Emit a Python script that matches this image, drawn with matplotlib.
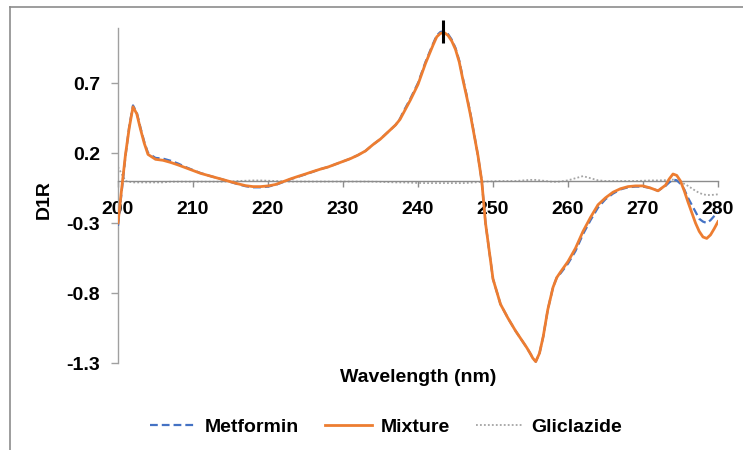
import matplotlib
matplotlib.use("Agg")
import matplotlib.pyplot as plt
from matplotlib.lines import Line2D

# ---- data ----
wavelength = [200, 200.5, 201, 201.5, 202, 202.5, 203, 203.5, 204,
              205, 206, 207, 208, 209, 210, 211, 212, 213, 214, 215, 216, 217, 218, 219, 220,
              221, 222, 223, 224, 225, 226, 227, 228, 229, 230, 231, 232, 233, 234, 235, 236,
              237, 237.6, 238, 239, 240, 241, 242,
              242.5, 243, 243.5, 244, 244.5, 245, 245.5, 246, 246.5, 247, 248, 248.5,
              249, 250, 251, 252, 253, 254, 254.5,
              255, 255.3, 255.7, 256.2, 256.7, 257.3, 258, 258.5,
              259, 260, 261, 262, 263, 264, 265, 266, 267, 268, 269, 270, 271, 272, 273,
              273.5, 274, 274.5, 275, 275.5, 276, 277, 277.5, 278, 278.5, 279, 279.5, 280]

mixture = [-0.30, -0.05, 0.19, 0.38, 0.53, 0.48, 0.37, 0.27, 0.19,
           0.155, 0.148, 0.133, 0.115, 0.095, 0.075, 0.055, 0.04, 0.025, 0.01, -0.005, -0.02, -0.033, -0.04, -0.04, -0.035,
           -0.025, -0.005, 0.015, 0.033, 0.05, 0.068, 0.085, 0.10, 0.12, 0.14, 0.16, 0.185, 0.215, 0.26, 0.30, 0.35,
           0.40, 0.44, 0.48, 0.58, 0.69, 0.84, 0.97,
           1.03, 1.055, 1.06, 1.04, 1.00, 0.94, 0.85, 0.72, 0.60, 0.47, 0.18, 0.0,
           -0.30, -0.70, -0.88, -0.98, -1.07, -1.15, -1.19,
           -1.235, -1.265, -1.29, -1.23, -1.11, -0.92, -0.76, -0.69,
           -0.65, -0.575, -0.48, -0.36, -0.26, -0.17, -0.12, -0.08, -0.055, -0.04, -0.035, -0.035, -0.05, -0.07, -0.03,
           0.015, 0.05, 0.04, 0.0, -0.07, -0.15, -0.30, -0.36, -0.40, -0.41, -0.385, -0.34, -0.29]

metformin = [-0.32, -0.07, 0.18, 0.39, 0.54, 0.49, 0.38, 0.28, 0.20,
             0.165, 0.16, 0.145, 0.125, 0.10, 0.078, 0.057, 0.04, 0.025, 0.01, -0.007, -0.023, -0.037, -0.045, -0.045, -0.04,
             -0.028, -0.008, 0.013, 0.03, 0.048, 0.066, 0.085, 0.10, 0.12, 0.14, 0.16, 0.185, 0.215, 0.26, 0.30, 0.35,
             0.40, 0.445, 0.49, 0.59, 0.70, 0.85, 0.98,
             1.04, 1.065, 1.07, 1.05, 1.01, 0.95, 0.86, 0.73, 0.61, 0.48, 0.18, 0.0,
             -0.30, -0.70, -0.88, -0.98, -1.07, -1.15, -1.19,
             -1.235, -1.265, -1.29, -1.23, -1.11, -0.92, -0.76, -0.69,
             -0.66, -0.59, -0.50, -0.38, -0.28, -0.19, -0.13, -0.09, -0.06, -0.045, -0.04, -0.04, -0.05, -0.07, -0.035,
             -0.01, 0.01, 0.005, -0.02, -0.06, -0.12, -0.22, -0.27, -0.29, -0.30, -0.28, -0.25, -0.22]

gliclazide = [0.10, 0.05, 0.0, -0.005, -0.01, -0.01, -0.01, -0.01, -0.01,
              -0.01, -0.01, -0.005, -0.005, -0.005, -0.005, -0.005, -0.005, -0.005, -0.005, -0.003, 0.0, 0.002, 0.004, 0.004, 0.002,
              0.0, -0.002, -0.004, -0.004, -0.004, -0.004, -0.004, -0.004, -0.004, -0.004, -0.004, -0.004, -0.004, -0.005, -0.006, -0.008,
              -0.01, -0.01, -0.01, -0.012, -0.014, -0.015, -0.015,
              -0.015, -0.015, -0.015, -0.015, -0.015, -0.015, -0.015, -0.015, -0.014, -0.012, -0.008, -0.006,
              -0.004, -0.002, 0.0, 0.0, 0.0, 0.004, 0.006,
              0.008, 0.008, 0.008, 0.005, 0.002, -0.002, -0.006, -0.005,
              -0.004, 0.005, 0.02, 0.035, 0.02, 0.005, 0.0, 0.0, 0.0, 0.0, 0.0, 0.002, 0.004, 0.004, 0.006,
              0.008, 0.01, 0.0, -0.01, -0.02, -0.035, -0.07, -0.085, -0.095, -0.10, -0.10, -0.098, -0.095]

series_names = ["Metformin", "Mixture", "Gliclazide"]
x_ticks = [200, 210, 220, 230, 240, 250, 260, 270, 280]
y_ticks = [-1.3, -0.8, -0.3, 0.2, 0.7]
peak_marker_nm = 243.3
peak_marker_range = [0.985, 1.15]

# ---- figure ----
plt.rcParams['font.family'] = ['Liberation Sans', 'DejaVu Sans']
FS = 14
fig = plt.figure(figsize=(7.43, 4.5), dpi=100)
ax = fig.add_axes([118/743, 1 - 363/450, 600/743, 335/450])

blue = "#4472C4"
orange = "#ED7D31"
grey = "#A5A5A5"
met_ls = (0, (3.5, 1.8))
gli_ls = (0, (1, 1.2))

ax.plot(wavelength, metformin, color=blue, lw=1.6, ls=met_ls, label=series_names[0], zorder=3)
ax.plot(wavelength, mixture, color=orange, lw=2.0, ls='-', label=series_names[1], zorder=4)
ax.plot(wavelength, gliclazide, color=grey, lw=1.3, ls=gli_ls, label=series_names[2], zorder=2)

ax.plot([peak_marker_nm, peak_marker_nm], peak_marker_range, color='black', lw=2.2,
        clip_on=False, zorder=6, solid_capstyle='butt')

ax.set_xlim(200, 280)
ax.set_ylim(-1.3, 1.093)
ax.set_xticks(x_ticks)
ax.set_yticks(y_ticks)
ax.set_yticklabels([f"{v:.1f}" for v in y_ticks])

for s in ['top', 'right']:
    ax.spines[s].set_visible(False)
ax.spines['bottom'].set_position(('data', 0))
ax.spines['bottom'].set_color('#8C8C8C')
ax.spines['left'].set_color('#A0A0A0')
ax.spines['bottom'].set_linewidth(1.0)
ax.spines['left'].set_linewidth(1.0)

ax.tick_params(axis='x', direction='out', length=4, width=1, color='#8C8C8C', pad=10.5,
               labelsize=FS)
ax.tick_params(axis='y', direction='out', length=5, width=1, color='#A0A0A0', pad=8,
               labelsize=FS)
for lab in ax.get_xticklabels() + ax.get_yticklabels():
    lab.set_fontweight('bold')

fig.text(44/743, 1 - 200/450, "D1R", rotation=90, ha='center', va='center',
         fontsize=FS, fontweight='bold')
fig.text(418/743, 1 - 378/450, "Wavelength (nm)", ha='center', va='center',
         fontsize=FS, fontweight='bold')

handles = [Line2D([], [], color=blue, lw=1.6, ls=met_ls),
           Line2D([], [], color=orange, lw=2.0),
           Line2D([], [], color=grey, lw=1.3, ls=gli_ls)]
leg = fig.legend(handles, series_names, loc='center', bbox_to_anchor=(386/743, 1 - 427/450),
                 ncol=3, frameon=False, prop={'weight': 'bold', 'size': FS},
                 handlelength=2.4, handletextpad=0.45, columnspacing=1.35)

# outer frame (left and top edges visible)
fig.add_artist(Line2D([10/743, 10/743], [0, 1 - 7/450], transform=fig.transFigure,
                      color='#8C8C8C', lw=1.2))
fig.add_artist(Line2D([10/743, 1], [1 - 7/450, 1 - 7/450], transform=fig.transFigure,
                      color='#8C8C8C', lw=1.2))

fig.savefig("out.png", dpi=100)
